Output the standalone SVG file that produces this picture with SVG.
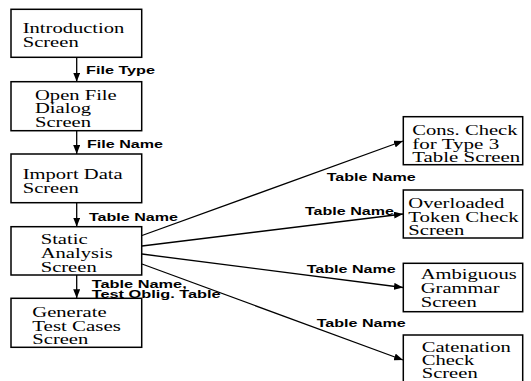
<svg xmlns="http://www.w3.org/2000/svg" width="531" height="381" viewBox="0 0 531 381">
<defs>
<style>
.box{fill:#fff;stroke:#000;stroke-width:1.5}
.t{font-family:"Liberation Serif","Times New Roman",serif;font-size:14px;fill:#000}
.l{font-family:"Liberation Sans",Arial,sans-serif;font-size:10px;font-weight:bold;fill:#000}
.c{stroke:#000;stroke-width:1.3;fill:none}
</style>
<marker id="ah" markerWidth="10" markerHeight="7" refX="9" refY="3.5" orient="auto" markerUnits="userSpaceOnUse">
<path d="M0,0 L9,3.5 L0,7 z" fill="#000"/>
</marker>
</defs>
<rect width="531" height="381" fill="#fff"/>

<g id="connectors">
<line class="c" x1="76.7" y1="57.3" x2="76.7" y2="81.7" marker-end="url(#ah)"/>
<line class="c" x1="76.7" y1="130.7" x2="76.7" y2="154" marker-end="url(#ah)"/>
<line class="c" x1="76.7" y1="202.7" x2="76.7" y2="226.7" marker-end="url(#ah)"/>
<line class="c" x1="76.7" y1="275" x2="76.7" y2="298.3" marker-end="url(#ah)"/>
<line class="c" x1="142" y1="235.5" x2="403" y2="141" marker-end="url(#ah)"/>
<line class="c" x1="142" y1="246" x2="403" y2="214" marker-end="url(#ah)"/>
<line class="c" x1="142" y1="254" x2="403" y2="287.5" marker-end="url(#ah)"/>
<line class="c" x1="142" y1="264" x2="403" y2="360" marker-end="url(#ah)"/>
<text class="l" x="86" y="74" textLength="69" lengthAdjust="spacingAndGlyphs">File Type</text>
<text class="l" x="87" y="148" textLength="76" lengthAdjust="spacingAndGlyphs">File Name</text>
<text class="l" x="89" y="221" textLength="89" lengthAdjust="spacingAndGlyphs">Table Name</text>
<text class="l" x="91.7" y="287.5" textLength="95" lengthAdjust="spacingAndGlyphs">Table Name,</text>
<text class="l" x="91.7" y="297.5" textLength="129" lengthAdjust="spacingAndGlyphs">Test Oblig. Table</text>
<text class="l" x="326.7" y="180.7" textLength="89" lengthAdjust="spacingAndGlyphs">Table Name</text>
<text class="l" x="305" y="215" textLength="89" lengthAdjust="spacingAndGlyphs">Table Name</text>
<text class="l" x="306.7" y="273.3" textLength="89" lengthAdjust="spacingAndGlyphs">Table Name</text>
<text class="l" x="316.7" y="326.7" textLength="89" lengthAdjust="spacingAndGlyphs">Table Name</text>
</g>

<g id="intro">
<rect class="box" x="11" y="9.3" width="130.7" height="48"/>
<text class="t" x="22.7" y="33" textLength="101.7" lengthAdjust="spacingAndGlyphs">Introduction</text>
<text class="t" x="22.7" y="46.5" textLength="56" lengthAdjust="spacingAndGlyphs">Screen</text>
</g>

<g id="openfile">
<rect class="box" x="11" y="81.7" width="130.7" height="49"/>
<text class="t" x="35" y="100" textLength="81.7" lengthAdjust="spacingAndGlyphs">Open File</text>
<text class="t" x="35" y="113" textLength="56" lengthAdjust="spacingAndGlyphs">Dialog</text>
<text class="t" x="35" y="126.5" textLength="56" lengthAdjust="spacingAndGlyphs">Screen</text>
</g>

<g id="import">
<rect class="box" x="11" y="154" width="130.7" height="48.7"/>
<text class="t" x="22.7" y="179" textLength="100" lengthAdjust="spacingAndGlyphs">Import Data</text>
<text class="t" x="22.7" y="192.5" textLength="56" lengthAdjust="spacingAndGlyphs">Screen</text>
</g>

<g id="static">
<rect class="box" x="11" y="226.7" width="130.7" height="48.3"/>
<text class="t" x="40.7" y="244" textLength="46.9" lengthAdjust="spacingAndGlyphs">Static</text>
<text class="t" x="40.7" y="257.5" textLength="72" lengthAdjust="spacingAndGlyphs">Analysis</text>
<text class="t" x="40.7" y="271.5" textLength="56" lengthAdjust="spacingAndGlyphs">Screen</text>
</g>

<g id="generate">
<rect class="box" x="11" y="298.3" width="130.7" height="49"/>
<text class="t" x="32.3" y="317" textLength="74.3" lengthAdjust="spacingAndGlyphs">Generate</text>
<text class="t" x="32.3" y="330.5" textLength="88.6" lengthAdjust="spacingAndGlyphs">Test Cases</text>
<text class="t" x="32.3" y="344" textLength="56" lengthAdjust="spacingAndGlyphs">Screen</text>
</g>

<g id="cons">
<rect class="box" x="403.3" y="116.7" width="119.4" height="48"/>
<text class="t" x="412.3" y="135" textLength="105.2" lengthAdjust="spacingAndGlyphs">Cons. Check</text>
<text class="t" x="412.3" y="148.5" textLength="86.9" lengthAdjust="spacingAndGlyphs">for Type 3</text>
<text class="t" x="412.3" y="162" textLength="108" lengthAdjust="spacingAndGlyphs">Table Screen</text>
</g>

<g id="overloaded">
<rect class="box" x="403.3" y="190" width="119.4" height="48"/>
<text class="t" x="408.3" y="207.5" textLength="96" lengthAdjust="spacingAndGlyphs">Overloaded</text>
<text class="t" x="408.3" y="221.5" textLength="110.3" lengthAdjust="spacingAndGlyphs">Token Check</text>
<text class="t" x="408.3" y="235" textLength="56" lengthAdjust="spacingAndGlyphs">Screen</text>
</g>

<g id="ambiguous">
<rect class="box" x="403.3" y="263.3" width="119.4" height="48.4"/>
<text class="t" x="420.7" y="279" textLength="96" lengthAdjust="spacingAndGlyphs">Ambiguous</text>
<text class="t" x="420.7" y="292.5" textLength="78.9" lengthAdjust="spacingAndGlyphs">Grammar</text>
<text class="t" x="420.7" y="306.5" textLength="56" lengthAdjust="spacingAndGlyphs">Screen</text>
</g>

<g id="catenation">
<rect class="box" x="403.3" y="335" width="119.4" height="50"/>
<text class="t" x="421.7" y="351.5" textLength="89.2" lengthAdjust="spacingAndGlyphs">Catenation</text>
<text class="t" x="421.7" y="364.5" textLength="52.6" lengthAdjust="spacingAndGlyphs">Check</text>
<text class="t" x="421.7" y="377.5" textLength="56" lengthAdjust="spacingAndGlyphs">Screen</text>
</g>
</svg>
